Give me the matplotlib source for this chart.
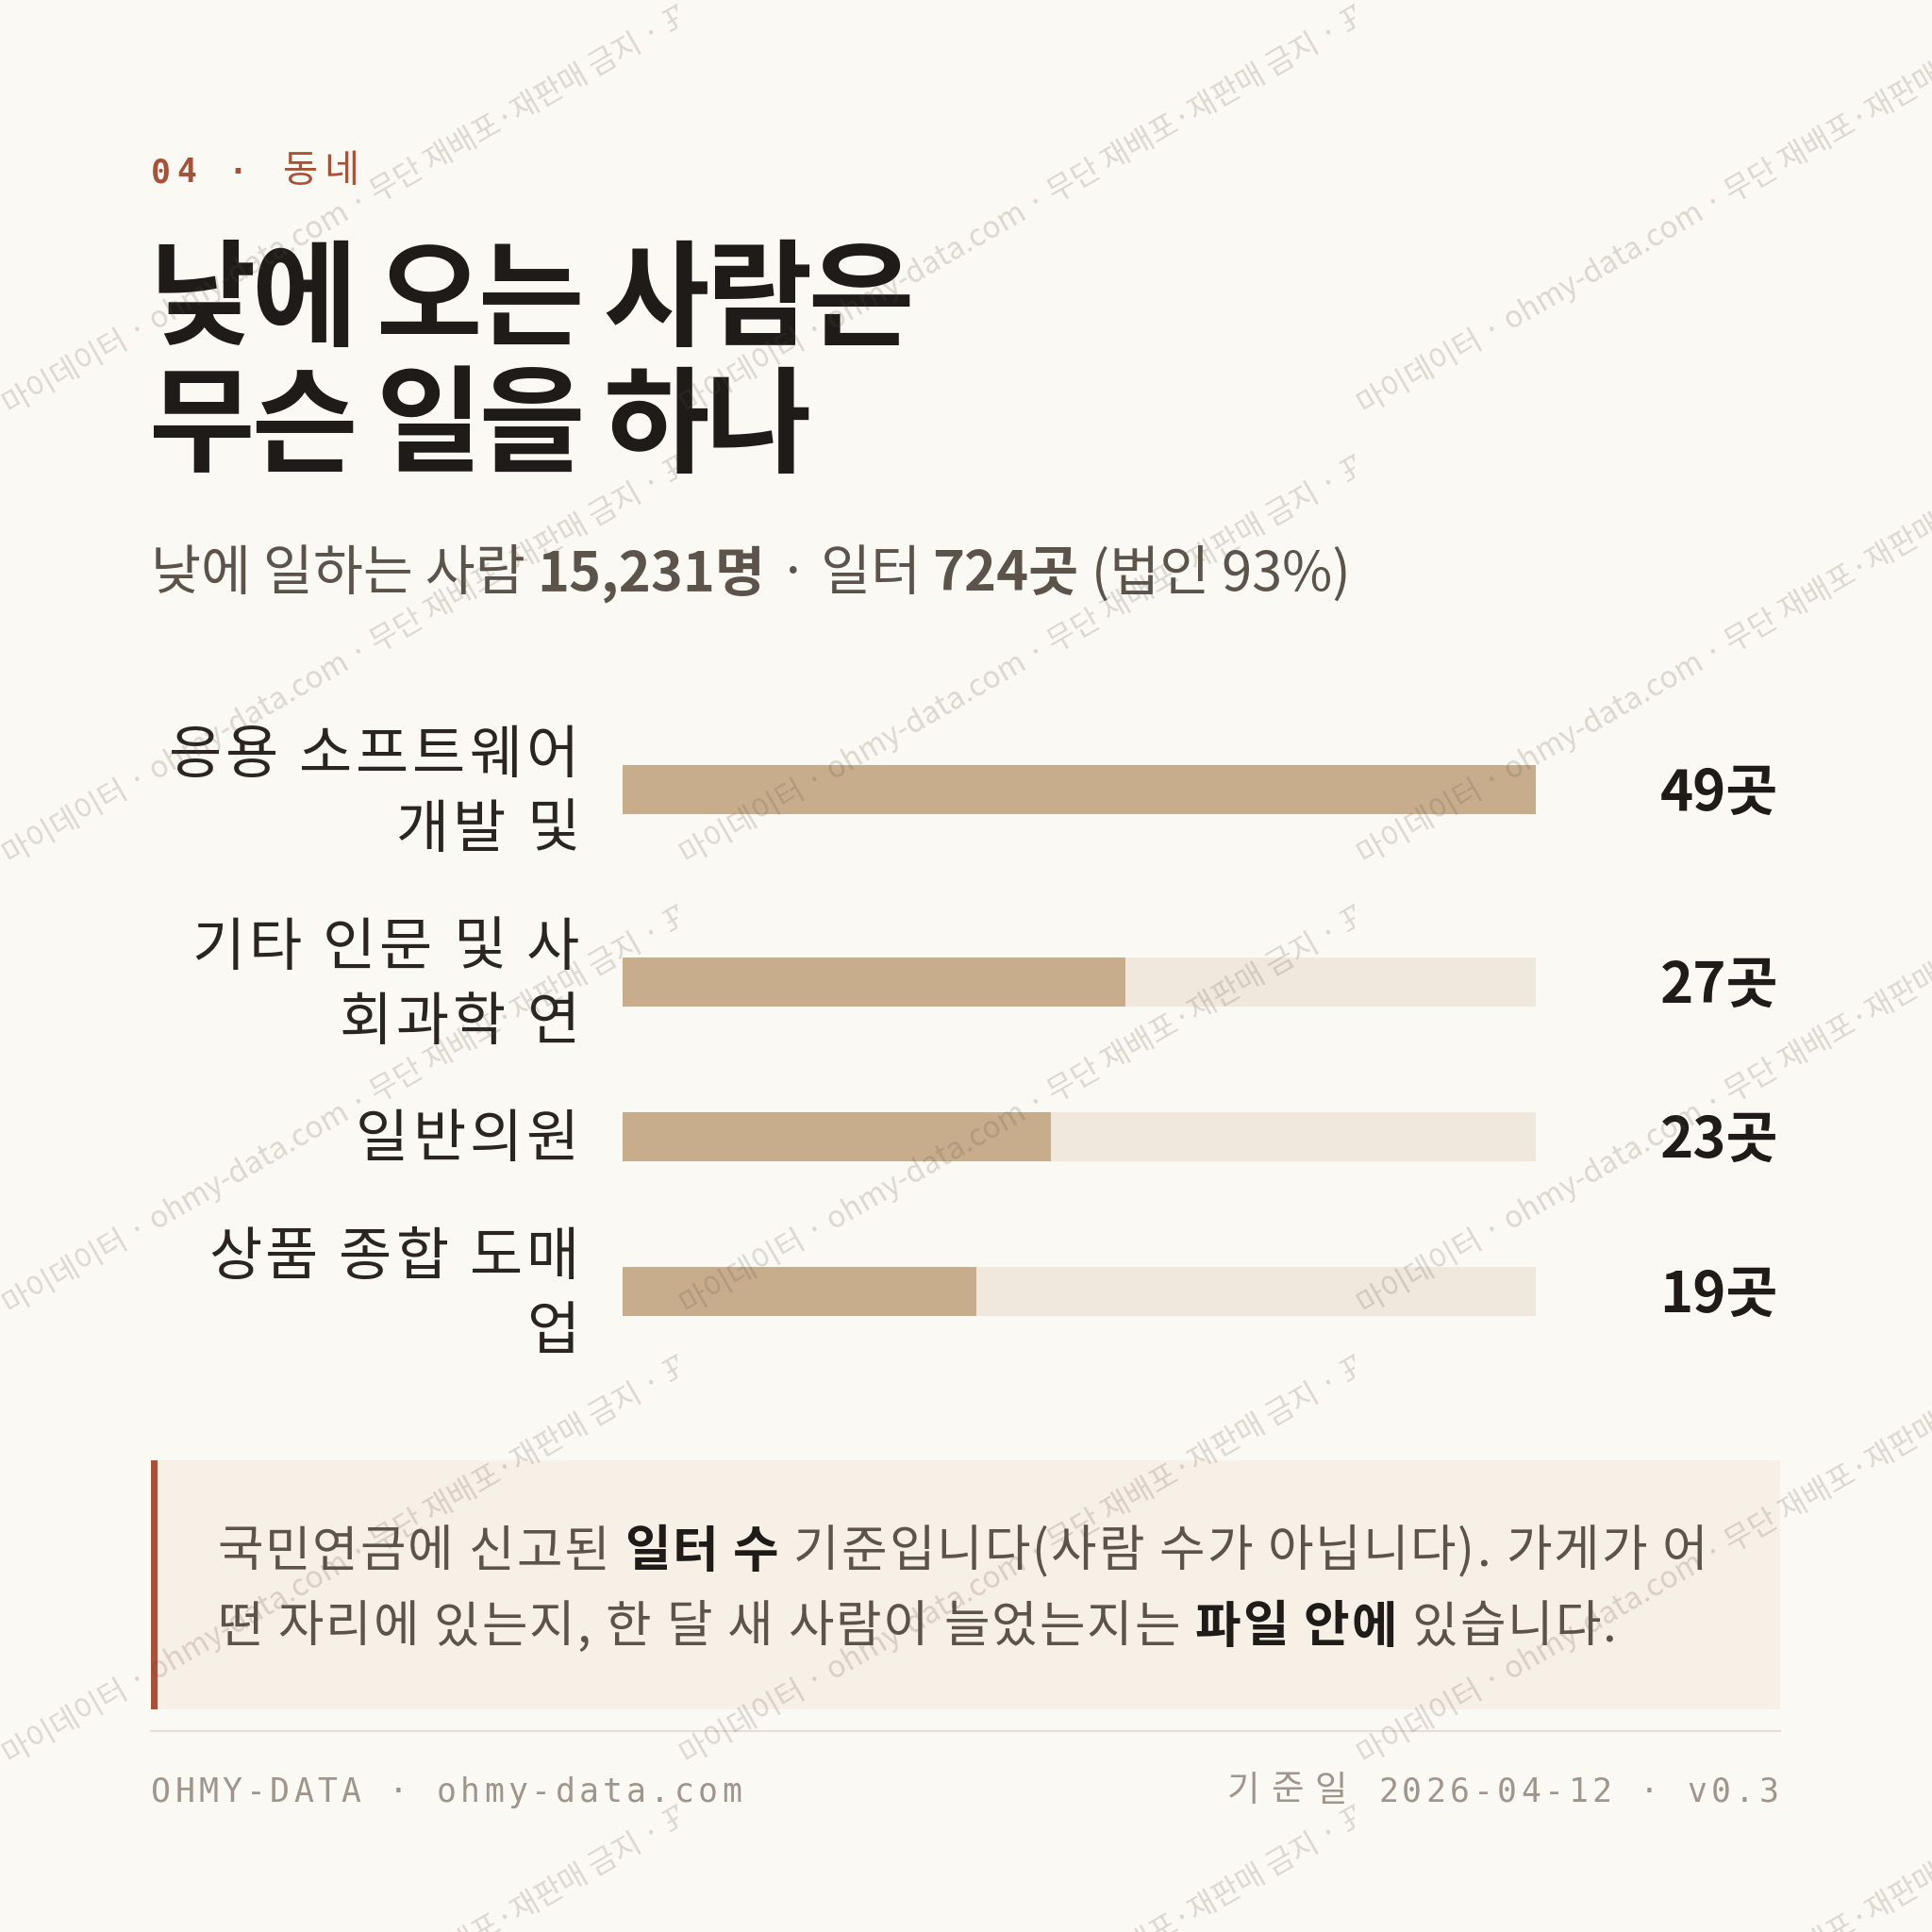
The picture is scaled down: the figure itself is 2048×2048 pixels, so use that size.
import matplotlib
matplotlib.use('Agg')
import matplotlib.pyplot as plt
from matplotlib.patches import Rectangle
from matplotlib.transforms import Bbox
from matplotlib.font_manager import FontProperties

plt.rcParams['font.family'] = ['Noto Sans CJK KR', 'DejaVu Sans']

# ---- data ----
section_no = '04 · '
section_name = '동네'
title_lines = ['낮에 오는 사람은', '무슨 일을 하나']
subtitle_runs = [('낮에 일하는 사람 ', False), ('15,231명', True), (' · 일터 ', False),
                 ('724곳', True), (' (법인 93%)', False)]
industries = ['응용 소프트웨어\n개발 및', '기타 인문 및 사\n회과학 연', '일반의원', '상품 종합 도매\n업']
workplaces = [49, 27, 23, 19]
value_unit = '곳'
note_lines = [
    [('국민연금에 신고된 ', False), ('일터 수', True), (' 기준입니다(사람 수가 아닙니다). 가게가 어', False)],
    [('떤 자리에 있는지, 한 달 새 사람이 늘었는지는 ', False), ('파일 안에', True), (' 있습니다.', False)],
]
footer_left = 'OHMY-DATA · ohmy-data.com'
footer_date_label = '기준일'
footer_right = '2026-04-12 · v0.3'
watermark = '마이데이터 · ohmy-data.com · 무단 재배포·재판매 금지 · 표본'

# ---- colours ----
BG = '#FBF9F4'
INK = '#1F1B18'
TEXT = '#5C534A'
RUST = '#A5523A'
BAR = '#C8AD8C'
TRACK = '#F0E8DC'
NOTE_BG = '#F7F0E6'
RULE = '#E5DED2'
FOOT = '#A0958A'
MONO = ['DejaVu Sans Mono', 'Noto Sans CJK KR']
CJK = ['Noto Sans CJK KR', 'DejaVu Sans']

W = 2048
fig = plt.figure(figsize=(20.48, 20.48), dpi=100)
fig.patch.set_facecolor(BG)

ax = fig.add_axes([0, 0, 1, 1])
ax.set_xlim(0, W)
ax.set_ylim(W, 0)
ax.axis('off')
renderer = fig.canvas.get_renderer()

_cache = {}


def run_width(s, **kw):
    # width including trailing spaces: measure with a bar glyph appended
    key = (s, tuple(sorted((k, str(v)) for k, v in kw.items() if k != 'color')))
    if key in _cache:
        return _cache[key]
    kw = {k: v for k, v in kw.items() if k != 'color'}
    t = ax.text(0, 0, s + '|', **kw)
    w1 = t.get_window_extent(renderer).width
    t.remove()
    t = ax.text(0, 0, '|', **kw)
    w2 = t.get_window_extent(renderer).width
    t.remove()
    _cache[key] = w1 - w2
    return w1 - w2


def baseline(s, yc, size, weight='normal', family=CJK):
    # baseline that puts a va='center' layout box at yc
    fp = FontProperties(family=family, size=size, weight=weight)
    _, h1, d1 = renderer.get_text_width_height_descent(s, fp, ismath=False)
    _, h2, d2 = renderer.get_text_width_height_descent('lp', fp, ismath=False)
    return yc + max(h1, h2) / 2 - max(d1, d2)


def tracked(x, yc, runs, size, track=0.0, ha='left', colors=(TEXT, INK), family=CJK):
    # runs: list of (string, bold); drawn char by char with extra spacing
    plain = ''.join(s for s, _ in runs)
    yb = baseline(plain, yc, size, family=family)
    chars = []
    for s, bold in runs:
        kw = dict(fontsize=size, fontweight='bold' if bold else 'normal',
                  color=colors[1] if bold else colors[0], family=family)
        for ch in s:
            chars.append((ch, kw, run_width(ch, **kw)))
    total = sum(c[2] for c in chars) + track * (len(chars) - 1)
    if ha == 'right':
        x -= total
    for ch, kw, w in chars:
        ax.text(x, yb, ch, ha='left', va='baseline', **kw)
        x += w + track
    return total


def draw_runs(x, y, runs, size, reg_color, bold_color):
    for s, bold in runs:
        kw = dict(fontsize=size, fontweight='bold' if bold else 'normal',
                  color=bold_color if bold else reg_color)
        ax.text(x, y, s, ha='left', va='center', **kw)
        x += run_width(s, **kw)


def draw_spaced(x, y, s, pitch, **kw):
    for i, ch in enumerate(s):
        ax.text(x + i * pitch, y, ch, ha='left', va='center', **kw)


# header
draw_spaced(160, 183, section_no, 27, fontsize=25, fontweight='bold', color=RUST, family=MONO)
tracked(300, 182, [(section_name, False)], 29, track=6, colors=(RUST, RUST))

# title
for i, line in enumerate(title_lines):
    tracked(158, 322 + i * 134, [(line, True)], 88, track=-4, colors=(INK, INK))

# subtitle
draw_runs(160, 609, subtitle_runs, 41.5, TEXT, TEXT)

# bars
n_lines = [len(s.split('\n')) for s in industries]
ys = []
y = 837
for i, n in enumerate(n_lines):
    if i > 0:
        y += (n_lines[i - 1] + n) * 40 + 44
    ys.append(y)

bax = fig.add_axes([660 / W, 0, 968 / W, 1])
bax.set_xlim(0, max(workplaces))
bax.set_ylim(W, 0)
bax.axis('off')
bax.patch.set_alpha(0)
bax.barh(ys, [max(workplaces)] * len(workplaces), height=52, color=TRACK)
bax.barh(ys, workplaces, height=52, color=BAR)

for yc, label, v in zip(ys, industries, workplaces):
    parts = label.split('\n')
    for j, part in enumerate(parts):
        tracked(614, yc + 4 + (j - (len(parts) - 1) / 2) * 79, [(part, False)], 44,
                track=4, ha='right', colors=('#2A2521', '#2A2521'))
    ax.text(1885, yc + 5, f'{v}{value_unit}', ha='right', va='center', fontsize=43,
            fontweight='bold', color=INK)

# note box
ax.add_patch(Rectangle((160, 1548), 1727, 264, color=NOTE_BG, lw=0))
ax.add_patch(Rectangle((160, 1548), 7, 264, color=RUST, lw=0))
for i, runs in enumerate(note_lines):
    tracked(230, 1645 + i * 80, runs, 38, track=2, colors=(TEXT, INK))

# footer
ax.plot([160, 1887], [1835, 1835], color=RULE, lw=1.5)
draw_spaced(160, 1900, footer_left, 25.2, fontsize=25, color=FOOT, family=MONO)
draw_spaced(1885 - 20.8 - (len(footer_right) - 1) * 25.2, 1900, footer_right, 25.2,
            fontsize=25, color=FOOT, family=MONO)
tracked(1428, 1898, [(footer_date_label, False)], 27, track=12, ha='right',
        colors=(FOOT, FOOT))

# watermark overlay
wax = fig.add_axes([0, 0, 1, 1])
wax.set_xlim(0, W)
wax.set_ylim(W, 0)
wax.axis('off')
wax.patch.set_alpha(0)
tile_w, tile_h = 718, 477
for col in range(3):
    x0 = col * tile_w
    clip = Bbox.from_extents(x0, 0, x0 + tile_w, W)
    for row in range(-1, 6):
        t = wax.text(x0 + 10, 440 + row * tile_h, watermark, rotation=30, rotation_mode='anchor',
                     ha='left', va='baseline', fontsize=23, color='#5A5046', alpha=0.2)
        t.set_clip_on(True)
        t.set_clip_box(clip)

fig.savefig('out.png', dpi=100, facecolor=BG)
